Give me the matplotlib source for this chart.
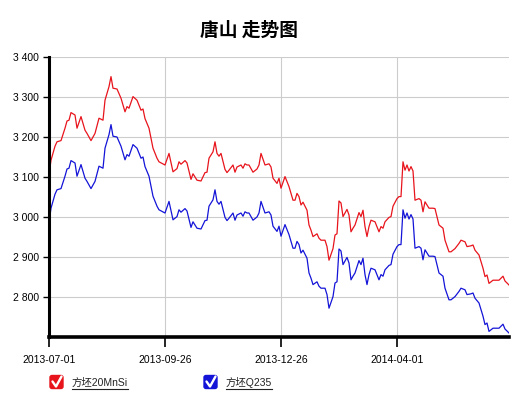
import matplotlib
matplotlib.use("Agg")
import matplotlib.pyplot as plt
from matplotlib.patches import FancyBboxPatch

plt.rcParams['font.family'] = ['Liberation Sans', 'Noto Sans CJK SC', 'DejaVu Sans']

# trading-day index of each sample (ticks fall every 58 sessions)
idx = [0, 1, 3, 4, 6, 8, 9, 10, 11, 13,
       14, 16, 18, 19, 21, 23, 25, 27, 28, 30,
       31, 32, 34, 36, 38, 39, 40, 42, 44, 46,
       47, 48, 50, 51, 52, 54, 55, 58, 60, 62,
       64, 65, 66, 68, 69, 71, 72, 74, 76, 78,
       79, 80, 82, 83, 84, 85, 86, 88, 89, 90,
       92, 93, 94, 96, 97, 98, 99, 100, 102, 104,
       105, 106, 108, 110, 111, 112, 114, 115, 116, 118,
       120, 122, 123, 124, 125, 126, 127, 129, 130, 131,
       132, 134, 135, 136, 138, 139, 140, 142, 143, 144,
       145, 146, 147, 149, 150, 151, 152, 153, 155, 156,
       157, 158, 159, 160, 161, 163, 165, 166, 167, 168,
       170, 171, 172, 174, 175, 176, 177, 178, 179, 180,
       181, 182, 183, 185, 186, 187, 188, 190, 192, 193,
       195, 197, 198, 200, 201, 203, 205, 206, 208, 209,
       211, 212, 213, 215, 217, 218, 219, 220, 222, 224,
       225, 227, 228, 230]

mnsi = [3105, 3142, 3177, 3188, 3191, 3222, 3240, 3242, 3261, 3255,
        3222, 3251, 3217, 3209, 3191, 3209, 3247, 3242, 3292, 3326,
        3351, 3322, 3320, 3297, 3263, 3276, 3272, 3301, 3292, 3267,
        3270, 3246, 3222, 3197, 3172, 3147, 3138, 3130, 3159, 3113,
        3121, 3138, 3132, 3141, 3135, 3094, 3108, 3092, 3090, 3111,
        3112, 3147, 3163, 3188, 3159, 3152, 3159, 3119, 3111, 3117,
        3130, 3112, 3125, 3130, 3122, 3133, 3130, 3130, 3112, 3120,
        3130, 3159, 3130, 3133, 3125, 3097, 3084, 3097, 3072, 3101,
        3076, 3042, 3042, 3059, 3051, 3030, 3037, 3017, 2980, 2967,
        2951, 2958, 2947, 2942, 2942, 2926, 2892, 2921, 2955, 2958,
        3040, 3035, 3001, 3019, 3005, 2963, 2972, 2980, 3011, 3001,
        3017, 2976, 2951, 2976, 2992, 2988, 2963, 2976, 2972, 2988,
        2999, 3001, 3027, 3046, 3051, 3051, 3138, 3117, 3130, 3115,
        3126, 3115, 3042, 3046, 3042, 3013, 3038, 3022, 3022, 3021,
        2980, 2972, 2942, 2913, 2913, 2921, 2934, 2942, 2938, 2926,
        2928, 2930, 2917, 2905, 2872, 2851, 2855, 2834, 2842, 2842,
        2842, 2852, 2840, 2830]

q235 = [2985, 3022, 3057, 3068, 3071, 3102, 3120, 3122, 3141, 3135,
        3102, 3131, 3097, 3089, 3071, 3089, 3127, 3122, 3172, 3206,
        3231, 3202, 3200, 3177, 3143, 3156, 3152, 3181, 3172, 3147,
        3150, 3126, 3102, 3077, 3052, 3027, 3018, 3010, 3039, 2993,
        3001, 3018, 3012, 3021, 3015, 2974, 2988, 2972, 2970, 2991,
        2992, 3027, 3043, 3068, 3039, 3032, 3039, 2999, 2991, 2997,
        3010, 2992, 3005, 3010, 3002, 3013, 3010, 3010, 2992, 3000,
        3010, 3039, 3010, 3013, 3005, 2977, 2964, 2977, 2952, 2981,
        2956, 2922, 2922, 2939, 2931, 2910, 2917, 2897, 2860, 2847,
        2831, 2838, 2827, 2822, 2822, 2806, 2772, 2801, 2835, 2838,
        2920, 2915, 2881, 2899, 2885, 2843, 2852, 2860, 2891, 2881,
        2897, 2856, 2831, 2856, 2872, 2868, 2843, 2856, 2852, 2868,
        2879, 2881, 2907, 2926, 2931, 2931, 3018, 2997, 3010, 2995,
        3006, 2995, 2922, 2926, 2922, 2893, 2918, 2902, 2902, 2901,
        2860, 2852, 2822, 2793, 2793, 2801, 2814, 2822, 2818, 2806,
        2808, 2810, 2797, 2785, 2752, 2731, 2735, 2714, 2722, 2722,
        2722, 2732, 2720, 2710]

tick_pos = [0, 58, 116, 174]
tick_lbl = ["2013-07-01", "2013-09-26", "2013-12-26", "2014-04-01"]
yticks = [2800, 2900, 3000, 3100, 3200, 3300, 3400]
names = ["方坯20MnSi", "方坯Q235"]
RED = "#e8141c"; BLUE = "#1414d8"

W, H = 521, 398
fig = plt.figure(figsize=(W / 100, H / 100), dpi=100)
ax = fig.add_axes([49 / W, 1 - 337 / H, 460 / W, 280 / H])

ax.plot(idx, mnsi, color=RED, lw=0.9)
ax.plot(idx, q235, color=BLUE, lw=0.9)

ax.set_xlim(0, 230); ax.set_ylim(2700, 3400)
ax.set_xticks(tick_pos); ax.set_xticklabels(tick_lbl)
ax.set_yticks(yticks)
ax.set_yticklabels([f"{v:,}".replace(",", " ") for v in yticks])
ax.tick_params(axis="x", length=7, width=1.2, pad=6, labelsize=7.5, colors="black")
ax.tick_params(axis="y", length=4, width=1, pad=3, labelsize=7.5)
ax.grid(color="#cccccc", lw=0.8)
for s in ["top", "right"]:
    ax.spines[s].set_visible(False)
ax.spines["left"].set_linewidth(2.2)
ax.spines["bottom"].set_linewidth(2.6)

fig.text(249 / W, 1 - 30 / H, "唐山 走势图", ha="center", va="center",
         fontsize=13.5, fontweight="bold", family=["Noto Sans CJK SC", "DejaVu Sans"])

# legend: coloured check boxes + underlined labels, drawn in pixel space
ov = fig.add_axes([0, 0, 1, 1]); ov.set_xlim(0, W); ov.set_ylim(H, 0); ov.axis("off")
for x0, col, name in [(49, RED, names[0]), (203, BLUE, names[1])]:
    ov.add_patch(FancyBboxPatch((x0 + 1, 375.5), 13, 13, boxstyle="round,pad=0,rounding_size=2",
                                fc=col, ec=col))
    ov.plot([x0 + 3.5, x0 + 7, x0 + 12.5], [381.5, 386.5, 376.5], color="white", lw=1.7,
            solid_capstyle="round")
    t = ov.text(x0 + 23, 383, name, fontsize=7.5, va="center", ha="left", color="#222222")
    fig.canvas.draw()
    bb = t.get_window_extent()
    ov.plot([bb.x0, bb.x1], [388.5, 388.5], color="#222222", lw=0.8)

fig.savefig("out.png", dpi=100)
